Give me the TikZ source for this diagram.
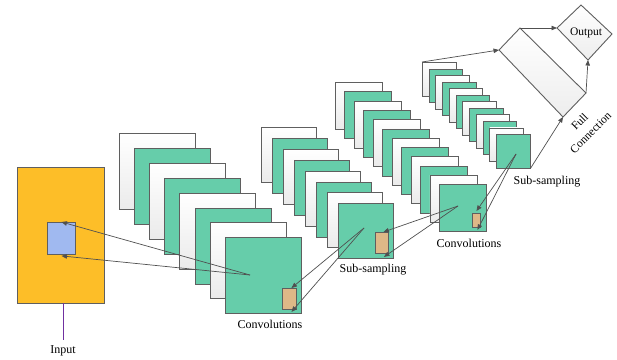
\documentclass[tikz,border=0pt]{standalone}
\usepackage{fontspec}
\setmainfont{Liberation Serif}
\usetikzlibrary{arrows.meta}

\definecolor{inputfill}{RGB}{253,190,40}
\definecolor{patchblue}{RGB}{160,185,240}
\definecolor{patchbrown}{RGB}{222,184,135}
\definecolor{mapgreen}{RGB}{102,205,170}
\definecolor{edgegray}{RGB}{95,95,95}
\definecolor{linkgray}{RGB}{80,80,80}
\definecolor{inputline}{RGB}{112,48,160}

\tikzset{
  map/.style={draw=edgegray, line width=0.9pt, inner sep=0pt, anchor=north west},
  plain/.style={map, top color=white, bottom color=gray!16},
  feat/.style={map, fill=mapgreen},
  layer/.code={\ifodd#1\relax\pgfkeysalso{plain}\else\pgfkeysalso{feat}\fi},
  link/.style={draw=linkgray, line width=0.7pt, -{Triangle[length=5.5pt,width=4.5pt]}},
  lab/.style={font=\fontsize{12}{14}\selectfont, inner sep=1pt}
}

\begin{document}
\begin{tikzpicture}[x=1pt,y=-1pt]
  \useasboundingbox (0,0) rectangle (617,359);

  % input image with its receptive field
  \node[map, fill=inputfill, minimum width=87pt, minimum height=136pt] (input) at (17,167) {};
  \node[map, fill=patchblue, minimum width=28pt, minimum height=32pt] (patch) at (47,222) {};
  \node[lab] (inlab) at (63,351) {Input};
  \draw[draw=inputline, line width=1pt] (63,303) -- (63,340);

  % first convolution stack
  \foreach \i in {1,...,8}
    \node[layer=\i, minimum size=76pt] (cA-\i) at ({119+15.1*(\i-1)},{133+14.9*(\i-1)}) {};
  % first sub-sampling stack
  \foreach \i in {1,...,8}
    \node[layer=\i, minimum size=55pt] (sA-\i) at ({261+11*(\i-1)},{127+10.9*(\i-1)}) {};
  % second convolution stack
  \foreach \i in {1,...,12}
    \node[layer=\i, minimum size=47pt] (cB-\i) at ({335+9.45*(\i-1)},{82+9.3*(\i-1)}) {};
  % second sub-sampling stack
  \foreach \i in {1,...,12}
    \node[layer=\i, minimum size=33.5pt] (sB-\i) at ({422+6.73*(\i-1)},{62+6.55*(\i-1)}) {};

  % patches inside the front maps
  \node[map, fill=patchbrown, minimum width=14pt, minimum height=21pt] (pA) at (282,288) {};
  \node[map, fill=patchbrown, minimum width=13pt, minimum height=21pt] (pB) at (375,232) {};
  \node[map, fill=patchbrown, minimum width=8pt, minimum height=14pt] (pC) at (472,213) {};

  % where the links start
  \coordinate (srcA) at (250,275);
  \coordinate (srcB) at (364,228);
  \coordinate (srcC) at (458,206);
  \coordinate (srcD) at (516,154);

  \draw[link] (srcA) -- (patch.north);
  \draw[link] (srcA) -- ([yshift=-1pt]patch.south);
  \draw[link] (srcB) -- ([xshift=2pt]pA.north);
  \draw[link] (srcB) -- ([xshift=2pt,yshift=-2pt]pA.south);
  \draw[link] (srcC) -- ([xshift=1.5pt]pB.north);
  \draw[link] (srcC) -- ([xshift=2pt,yshift=-3pt]pB.south);
  \draw[link] (srcD) -- ([yshift=2pt]pC.north);
  \draw[link] (srcD) -- ([xshift=1pt,yshift=-2pt]pC.south);

  % full connection slab
  \coordinate (fcL) at (499,50);
  \coordinate (fcT) at (520,28);
  \coordinate (fcR) at (586,93);
  \coordinate (fcB) at (563,117);
  \draw[draw=edgegray, line width=0.9pt, top color=white, bottom color=gray!14]
    (fcL) -- (fcT) -- (fcR) -- (fcB) -- cycle;

  % output
  \coordinate (outL) at (557,28);
  \coordinate (outT) at (581,5);
  \coordinate (outR) at (612,34);
  \coordinate (outB) at (588,60);
  \draw[draw=edgegray, line width=0.9pt, top color=white, bottom color=gray!14]
    (outL) -- (outT) -- (outR) -- (outB) -- cycle;
  \node[lab, font=\fontsize{11.5}{13}\selectfont] (outlab) at (586,33) {Output};

  \draw[link] (sB-1.north west) -- (fcL);
  \draw[link] (sB-12.south east) -- (fcB);
  \draw[link] (fcT) -- (outL);
  \draw[link] (fcR) -- (outB);

  % labels
  \node[lab] (convA) at (270,324) {Convolutions};
  \node[lab] (subA) at (373,270) {Sub-sampling};
  \node[lab] (convB) at (469,243) {Convolutions};
  \node[lab] (subB) at (547,182) {Sub-sampling};
  \node[lab, rotate=45, align=center, font=\fontsize{11.5}{15.5}\selectfont] (fclab) at (585,127) {Full\\Connection};
\end{tikzpicture}
\end{document}
